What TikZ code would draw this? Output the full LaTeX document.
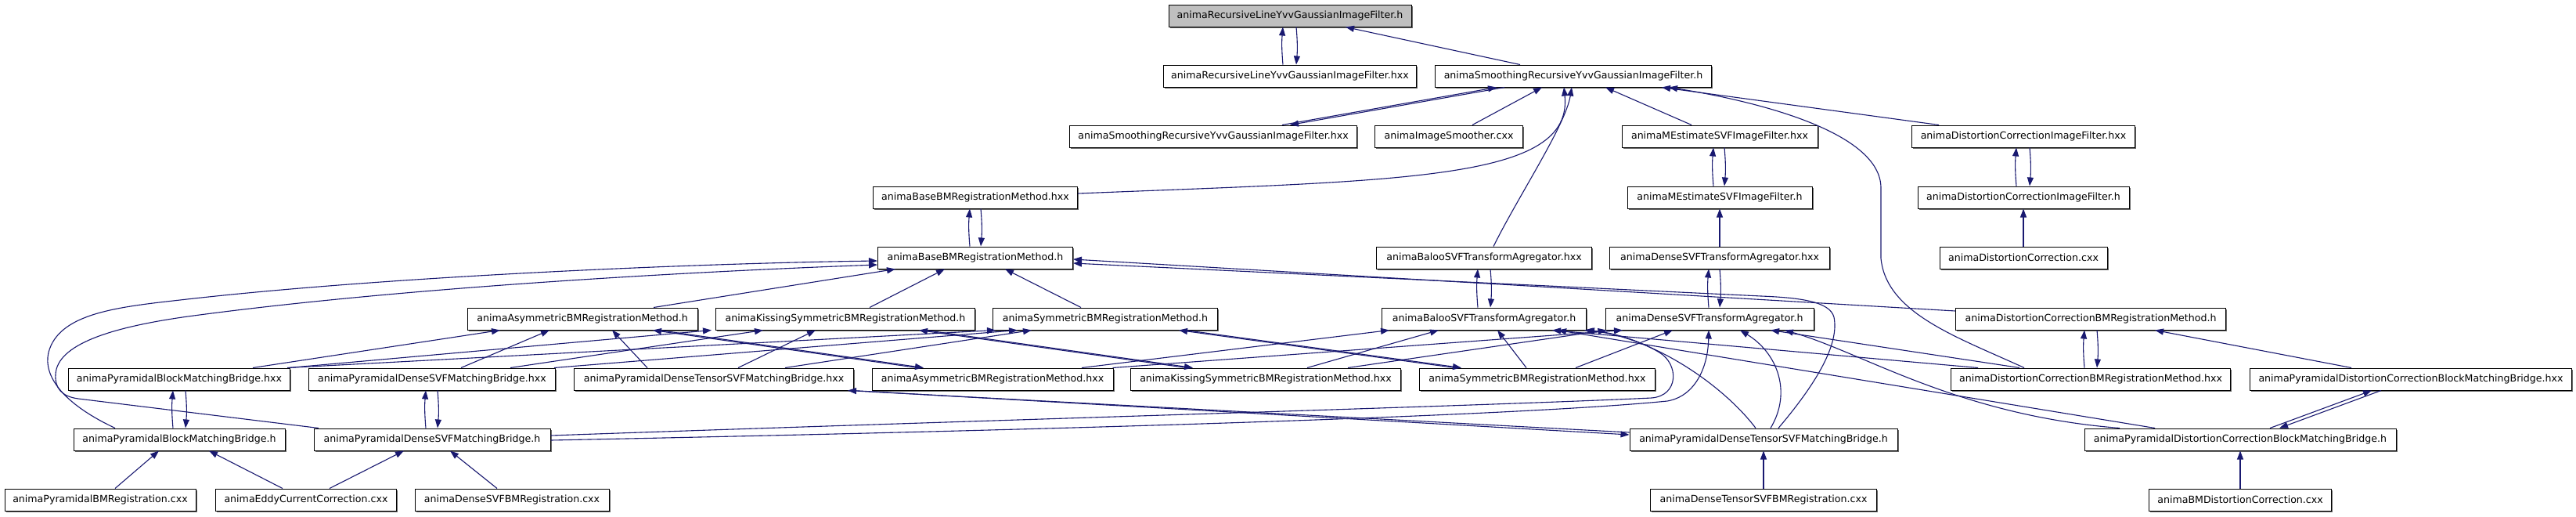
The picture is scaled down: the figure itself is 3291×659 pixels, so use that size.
\documentclass[tikz,border=0pt]{standalone}
\usepackage{fontspec}
\setmainfont{DejaVu Sans}
\usepackage{tikz}
\usetikzlibrary{arrows.meta,shadows}
\definecolor{doxblue}{RGB}{25,25,112}

\begin{document}
\begin{tikzpicture}[x=1pt, y=-1pt,
  file/.style={rectangle, draw=black, line width=1pt, fill=white,
               minimum height=28pt, minimum width=#1, inner sep=0pt,
               font=\fontsize{12.6}{15}\selectfont,
               drop shadow={shadow xshift=1.5pt, shadow yshift=-1.5pt, fill=black!60, opacity=1}},
  file/.default={250pt},
  dep/.style={-{Triangle[length=11pt, width=8pt]}, line width=1.1pt, color=doxblue}
]
  \fill[white] (0,0) rectangle (3291,659);
  \useasboundingbox (0,0) rectangle (3291,659);

  % files
  \node[file=310pt, fill=black!25] (recH) at (1648,20) {animaRecursiveLineYvvGaussianImageFilter.h};
  \node[file=323pt] (recHxx)   at (1648,97)  {animaRecursiveLineYvvGaussianImageFilter.hxx};
  \node[file=353pt] (smoothH)  at (2010,97)  {animaSmoothingRecursiveYvvGaussianImageFilter.h};
  \node[file=367pt] (smoothHxx) at (1550,174) {animaSmoothingRecursiveYvvGaussianImageFilter.hxx};
  \node[file=189pt] (smoother) at (1851,174) {animaImageSmoother.cxx};
  \node[file=250pt] (mestHxx)  at (2197,174) {animaMEstimateSVFImageFilter.hxx};
  \node[file=285pt] (dcifHxx)  at (2585,174) {animaDistortionCorrectionImageFilter.hxx};
  \node[file=261pt] (baseHxx)  at (1246,252) {animaBaseBMRegistrationMethod.hxx};
  \node[file=236pt] (mestH)    at (2197,252) {animaMEstimateSVFImageFilter.h};
  \node[file=270pt] (dcifH)    at (2585,252) {animaDistortionCorrectionImageFilter.h};
  \node[file=249pt] (baseH)    at (1246,329) {animaBaseBMRegistrationMethod.h};
  \node[file=275pt] (balooHxx) at (1896,329) {animaBalooSVFTransformAgregator.hxx};
  \node[file=281pt] (denseHxx) at (2197,329) {animaDenseSVFTransformAgregator.hxx};
  \node[file=214pt] (distCxx)  at (2585,329) {animaDistortionCorrection.cxx};
  \node[file=294pt] (asymH)    at (744,407)  {animaAsymmetricBMRegistrationMethod.h};
  \node[file=331pt] (kissH)    at (1080,407) {animaKissingSymmetricBMRegistrationMethod.h};
  \node[file=287pt] (symH)     at (1412,407) {animaSymmetricBMRegistrationMethod.h};
  \node[file=261pt] (balooH)   at (1896,407) {animaBalooSVFTransformAgregator.h};
  \node[file=266pt] (denseH)   at (2184,407) {animaDenseSVFTransformAgregator.h};
  \node[file=345pt] (dcbmH)    at (2671,407) {animaDistortionCorrectionBMRegistrationMethod.h};
  \node[file=283pt] (pbmbHxx)  at (229,484)  {animaPyramidalBlockMatchingBridge.hxx};
  \node[file=315pt] (pdsvfHxx) at (552,484)  {animaPyramidalDenseSVFMatchingBridge.hxx};
  \node[file=357pt] (pdtsvfHxx) at (912,484) {animaPyramidalDenseTensorSVFMatchingBridge.hxx};
  \node[file=308pt] (asymHxx)  at (1268,484) {animaAsymmetricBMRegistrationMethod.hxx};
  \node[file=345pt] (kissHxx)  at (1617,484) {animaKissingSymmetricBMRegistrationMethod.hxx};
  \node[file=301pt] (symHxx)   at (1964,484) {animaSymmetricBMRegistrationMethod.hxx};
  \node[file=357pt] (dcbmHxx)  at (2671,484) {animaDistortionCorrectionBMRegistrationMethod.hxx};
  \node[file=411pt] (pdcbmbHxx) at (3080,484) {animaPyramidalDistortionCorrectionBlockMatchingBridge.hxx};
  \node[file=270pt] (pbmbH)    at (229,561)  {animaPyramidalBlockMatchingBridge.h};
  \node[file=302pt] (pdsvfH)   at (552,561)  {animaPyramidalDenseSVFMatchingBridge.h};
  \node[file=342pt] (pdtsvfH)  at (2253,561) {animaPyramidalDenseTensorSVFMatchingBridge.h};
  \node[file=398pt] (pdcbmbH)  at (2862,561) {animaPyramidalDistortionCorrectionBlockMatchingBridge.h};
  \node[file=244pt] (pbmReg)   at (128,638)  {animaPyramidalBMRegistration.cxx};
  \node[file=231pt] (eddyCxx)  at (391,638)  {animaEddyCurrentCorrection.cxx};
  \node[file=248pt] (denseReg) at (654,638)  {animaDenseSVFBMRegistration.cxx};
  \node[file=289pt] (tensorReg) at (2253,638) {animaDenseTensorSVFBMRegistration.cxx};
  \node[file=233pt] (bmDistCxx) at (2862,638) {animaBMDistortionCorrection.cxx};

  % smoothing filter and its includers
  \draw[dep] ([xshift=-9pt]recHxx.north) to[bend left=5] ([xshift=-9pt]recH.south);
  \draw[dep] ([xshift=8pt]recH.south) to[bend left=5] ([xshift=8pt]recHxx.north);
  \draw[dep] ([xshift=-68pt]smoothH.north) -- ([xshift=71pt]recH.south);
  \draw[dep] ([xshift=88pt]smoothHxx.north) -- ([xshift=-98pt]smoothH.south);
  \draw[dep] ([xshift=-88pt]smoothH.south) -- ([xshift=98pt]smoothHxx.north);
  \draw[dep] ([xshift=30pt]smoother.north) -- ([xshift=-40pt]smoothH.south);
  \draw[dep] ([xshift=-36pt]mestHxx.north) -- ([xshift=41pt]smoothH.south);
  \draw[dep] ([xshift=-108pt]dcifHxx.north) -- ([xshift=113pt]smoothH.south);
  \draw[dep] ([xshift=-85pt]dcbmHxx.north) .. controls (2500,430) and (2410,400) .. (2403,330)
             -- (2403,240) .. controls (2403,170) and (2250,130) .. ([xshift=122pt]smoothH.south);
  \draw[dep] ([yshift=5pt]baseHxx.east) .. controls (1800,230) and (2010,230) .. ([xshift=-12pt]smoothH.south);
  \draw[dep] ([xshift=12pt]balooHxx.north) .. controls (1940,250) and (2000,160) .. ([xshift=-2pt]smoothH.south);

  % h <-> hxx pairs
  \draw[dep] ([xshift=-8pt]mestH.north) to[bend left=5] ([xshift=-8pt]mestHxx.south);
  \draw[dep] ([xshift=6pt]mestHxx.south) to[bend left=5] ([xshift=6pt]mestH.north);
  \draw[dep] (denseHxx.north) -- (mestH.south);
  \draw[dep] ([xshift=-9pt]dcifH.north) to[bend left=5] ([xshift=-9pt]dcifHxx.south);
  \draw[dep] ([xshift=8pt]dcifHxx.south) to[bend left=5] ([xshift=8pt]dcifH.north);
  \draw[dep] (distCxx.north) -- (dcifH.south);
  \draw[dep] ([xshift=-7pt]baseH.north) to[bend left=5] ([xshift=-7pt]baseHxx.south);
  \draw[dep] ([xshift=7pt]baseHxx.south) to[bend left=5] ([xshift=7pt]baseH.north);
  \draw[dep] ([xshift=-8pt]balooH.north) to[bend left=5] ([xshift=-8pt]balooHxx.south);
  \draw[dep] ([xshift=8pt]balooHxx.south) to[bend left=5] ([xshift=8pt]balooH.north);
  \draw[dep] ([xshift=-1pt]denseH.north) to[bend left=5] ([xshift=-14pt]denseHxx.south);
  \draw[dep] (denseHxx.south) to[bend left=5] ([xshift=13pt]denseH.north);
  \draw[dep] ([xshift=-8pt]dcbmHxx.north) to[bend left=5] ([xshift=-8pt]dcbmH.south);
  \draw[dep] ([xshift=8pt]dcbmH.south) to[bend left=5] ([xshift=8pt]dcbmHxx.north);

  % base registration method
  \draw[dep] ([xshift=91pt]asymH.north) -- ([xshift=-102pt]baseH.south);
  \draw[dep] ([xshift=31pt]kissH.north) -- ([xshift=-39pt]baseH.south);
  \draw[dep] ([xshift=-31pt]symH.north) -- ([xshift=38pt]baseH.south);
  \draw[dep] ([xshift=-82pt]pbmbH.north) .. controls (80,515) and (55,480) .. (62,450)
             .. controls (75,400) and (150,392) .. (230,383)
             .. controls (500,352) and (900,336) .. ([yshift=-4pt]baseH.west);
  \draw[dep] ([xshift=-145pt]pdsvfH.north) -- (100,509) .. controls (78,506) and (70,495) .. (71,478)
             .. controls (73,440) and (140,418) .. (240,404)
             .. controls (520,366) and (900,346) .. ([yshift=-9pt]baseH.west);
  \draw[dep] ([xshift=19pt]pdtsvfH.north) .. controls (2320,490) and (2350,440) .. (2343,405)
             .. controls (2338,385) and (2300,380) .. (2250,378) -- ([yshift=-7pt]baseH.east);
  \draw[dep] ([yshift=10pt]dcbmH.west) -- ([yshift=-2pt]baseH.east);

  % registration methods
  \draw[dep] ([xshift=94pt]pbmbHxx.north) -- ([xshift=-105pt]asymH.south);
  \draw[dep] ([xshift=37pt]pdsvfHxx.north) -- ([xshift=-42pt]asymH.south);
  \draw[dep] ([xshift=-85pt]pdtsvfHxx.north) -- ([xshift=38pt]asymH.south);
  \draw[dep] ([xshift=-96pt]asymHxx.north) -- ([xshift=90pt]asymH.south);
  \draw[dep] ([xshift=98pt]asymH.south) -- ([xshift=-88pt]asymHxx.north);
  \draw[dep] ([xshift=-2pt]pbmbHxx.north east) -- ([xshift=-171pt]kissH.south);
  \draw[dep] ([xshift=100pt]pdsvfHxx.north) -- ([xshift=-105pt]kissH.south);
  \draw[dep] ([xshift=31pt]pdtsvfHxx.north) -- ([xshift=-38pt]kissH.south);
  \draw[dep] ([xshift=-101pt]kissHxx.north) -- ([xshift=94pt]kissH.south);
  \draw[dep] ([xshift=102pt]kissH.south) -- ([xshift=-93pt]kissHxx.north);
  \draw[dep] ([xshift=-4pt]pbmbHxx.north east) -- ([xshift=-140pt]symH.south);
  \draw[dep] ([xshift=-2pt]pdsvfHxx.north east) -- ([xshift=-112pt]symH.south);
  \draw[dep] ([xshift=91pt]pdtsvfHxx.north) -- ([xshift=-94pt]symH.south);
  \draw[dep] ([xshift=-105pt]symHxx.north) -- ([xshift=94pt]symH.south);
  \draw[dep] ([xshift=102pt]symH.south) -- ([xshift=-97pt]symHxx.north);

  % bridges
  \draw[dep] ([xshift=-8pt]pbmbH.north) to[bend left=5] ([xshift=-8pt]pbmbHxx.south);
  \draw[dep] ([xshift=8pt]pbmbHxx.south) to[bend left=5] ([xshift=8pt]pbmbH.north);
  \draw[dep] ([xshift=-8pt]pdsvfH.north) to[bend left=5] ([xshift=-8pt]pdsvfHxx.south);
  \draw[dep] ([xshift=7pt]pdsvfHxx.south) to[bend left=5] ([xshift=7pt]pdsvfH.north);
  \draw[dep] ([yshift=9pt]pdtsvfH.west) -- ([xshift=-8pt]pdtsvfHxx.south east);
  \draw[dep] ([xshift=-2pt]pdtsvfHxx.south east) -- ([yshift=6pt]pdtsvfH.west);
  \draw[dep] ([xshift=-76pt]pdcbmbHxx.north) -- ([xshift=82pt]dcbmH.south);
  \draw[dep] ([xshift=38pt]pdcbmbH.north) -- ([xshift=-50pt]pdcbmbHxx.south);
  \draw[dep] ([xshift=-38pt]pdcbmbHxx.south) -- ([xshift=50pt]pdcbmbH.north);

  % agregators
  \draw[dep] ([xshift=114pt]asymHxx.north) -- ([xshift=-121pt]balooH.south);
  \draw[dep] ([xshift=-1pt]asymHxx.north east) -- ([xshift=-111pt]denseH.south);
  \draw[dep] ([xshift=53pt]kissHxx.north) -- ([xshift=-58pt]balooH.south);
  \draw[dep] ([xshift=105pt]kissHxx.north) -- ([xshift=2pt]denseH.south west);
  \draw[dep] ([xshift=-14pt]symHxx.north) -- ([xshift=17pt]balooH.south);
  \draw[dep] ([xshift=49pt]symHxx.north) -- ([xshift=-47pt]denseH.south);
  \draw[dep] ([xshift=-144pt]dcbmHxx.north) -- ([xshift=87pt]balooH.south);
  \draw[dep] ([xshift=-91pt]dcbmHxx.north) -- ([xshift=78pt]denseH.south);
  \draw[dep] ([xshift=-109pt]pdcbmbH.north) -- ([xshift=94pt]balooH.south);
  \draw[dep] ([xshift=-154pt]pdcbmbH.north) .. controls (2500,530) and (2380,450) .. ([xshift=96pt]denseH.south);
  \draw[dep] ([xshift=-10pt]pdtsvfH.north) .. controls (2200,490) and (2110,430) .. ([xshift=-3pt]balooH.south east);
  \draw[dep] ([xshift=9pt]pdtsvfH.north) .. controls (2290,500) and (2270,450) .. ([xshift=39pt]denseH.south);
  \draw[dep] ([yshift=5pt]pdsvfH.east) .. controls (1300,535) and (1900,518) .. (2110,508)
             .. controls (2145,505) and (2145,465) .. (2120,450)
             .. controls (2090,432) and (2055,424) .. ([xshift=-1pt]balooH.south east);
  \draw[dep] ([yshift=-1pt]pdsvfH.east) .. controls (1400,548) and (1950,530) .. (2130,512)
             .. controls (2165,506) and (2182,470) .. ([xshift=-1pt]denseH.south);

  % programs
  \draw[dep] ([xshift=19pt]pbmReg.north) -- ([xshift=-26pt]pbmbH.south);
  \draw[dep] ([xshift=-30pt]eddyCxx.north) -- ([xshift=38pt]pbmbH.south);
  \draw[dep] ([xshift=30pt]eddyCxx.north) -- ([xshift=-36pt]pdsvfH.south);
  \draw[dep] ([xshift=-19pt]denseReg.north) -- ([xshift=23pt]pdsvfH.south);
  \draw[dep] (tensorReg.north) -- (pdtsvfH.south);
  \draw[dep] (bmDistCxx.north) -- (pdcbmbH.south);
\end{tikzpicture}
\end{document}
